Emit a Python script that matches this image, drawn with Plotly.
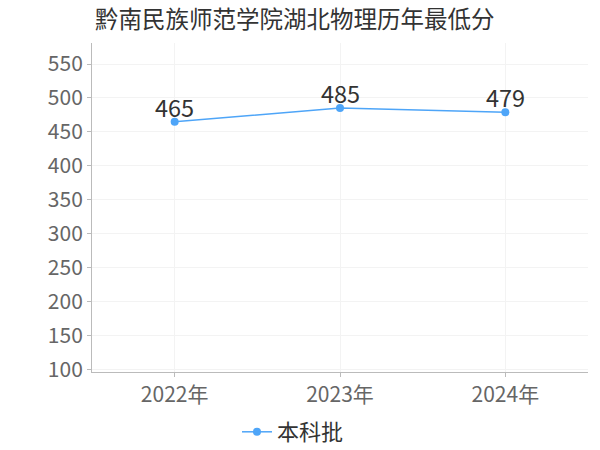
import plotly.graph_objects as go

years = ["2022年", "2023年", "2024年"]
scores = [465, 485, 479]
series_name = "本科批"
title_text = "黔南民族师范学院湖北物理历年最低分"
y_ticks = [100, 150, 200, 250, 300, 350, 400, 450, 500, 550]

FONT = "Noto Sans CJK SC, Microsoft YaHei, sans-serif"
color = "#4ea5f8"

L, R, T, B = 92, 12, 43, 78
PH = 450 - T - B
PW = 600 - L - R

fig = go.Figure()
fig.add_trace(go.Scatter(
    x=years, y=scores, name=series_name,
    mode="lines+markers",
    line=dict(color=color, width=1.5),
    marker=dict(color=color, size=8),
    cliponaxis=False,
))
for yr, v in zip(years, scores):
    fig.add_annotation(x=yr, y=v, text=str(v), showarrow=False,
                       yanchor="middle", yshift=15,
                       font=dict(size=23.5, color="#333333", family=FONT))

fig.update_layout(
    width=600, height=450,
    paper_bgcolor="white", plot_bgcolor="white",
    margin=dict(l=L, r=R, t=T, b=B, autoexpand=False),
    title=dict(text=title_text, x=95/600, xanchor="left", y=1-20/450, yanchor="middle",
               font=dict(size=23.5, color="#333333", family=FONT)),
    showlegend=True,
    legend=dict(orientation="h", x=(237-L)/PW, xanchor="left",
                y=-(432-(T+PH))/PH, yanchor="middle",
                font=dict(size=22, color="#333333", family=FONT),
                itemwidth=30),
    font=dict(family=FONT),
)
fig.update_xaxes(
    type="category", range=[-0.5, 2.5],
    showgrid=True, gridcolor="#f3f3f3", gridwidth=1,
    showline=True, linecolor="#bbbbbb", linewidth=1,
    ticks="outside", ticklen=4, tickcolor="#bbbbbb",
    tickfont=dict(size=21, color="#666666", family=FONT),
    zeroline=False, automargin=False,
)
fig.update_yaxes(
    range=[96, 581], tickvals=y_ticks,
    showgrid=True, gridcolor="#f3f3f3", gridwidth=1,
    showline=True, linecolor="#bbbbbb", linewidth=1,
    ticks="outside", ticklen=4, tickcolor="#bbbbbb",
    tickfont=dict(size=21, color="#666666", family=FONT),
    zeroline=False, automargin=False,
)

fig.write_html("out.html", config={"displayModeBar": False},
               post_script="document.body.style.margin='0';document.body.style.overflow='hidden';")
